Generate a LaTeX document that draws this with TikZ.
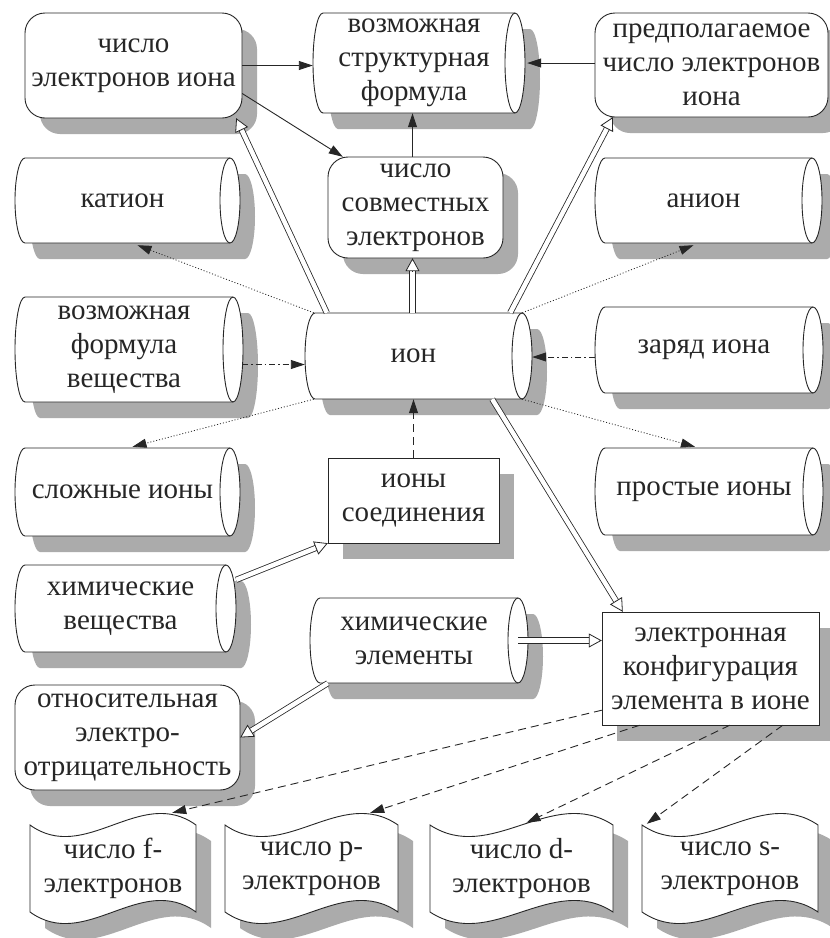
\documentclass[tikz,border=0pt]{standalone}
\usepackage{fontspec}
\setmainfont{Liberation Serif}
\usetikzlibrary{arrows.meta,calc}

\tikzset{
  shp/.style={draw=black!85, line width=0.9pt, fill=white},
  shd/.style={fill=black!33},
  lbl/.style={inner sep=0pt, align=center, font=\fontsize{29}{34}\selectfont, text=black!85},
  con/.style={draw=black!85, line width=0.9pt, -{Triangle[length=14pt,width=9pt]}},
  dotcon/.style={con, line width=0.8pt, dash pattern=on 1pt off 2pt},
  dashcon/.style={con, dash pattern=on 8pt off 5pt},
  dashdotcon/.style={con, dash pattern=on 6pt off 3pt on 1.5pt off 3pt},
  hline/.style={draw=black!85, line width=0.8pt, double=white, double distance=4.5pt},
  htip/.style={draw=black!85, line width=0.8pt, -{Triangle[length=13pt,width=14pt,fill=white]}},
}

% cylinder: name, x1, y1, x2, y2, text
\newcommand\cylnode[6]{%
  \pgfmathsetmacro\cry{(#5-#3)/2}%
  \fill[shd, shift={(15,16)}] (#2+10,#3) -- (#4-10,#3)
     arc[start angle=270,end angle=450,x radius=10,y radius=\cry] -- (#2+10,#5)
     arc[start angle=90,end angle=270,x radius=10,y radius=\cry] -- cycle;
  \draw[shp] (#2+10,#3) -- (#4-10,#3)
     arc[start angle=270,end angle=450,x radius=10,y radius=\cry] -- (#2+10,#5)
     arc[start angle=90,end angle=270,x radius=10,y radius=\cry] -- cycle;
  \draw[shp, fill=none] (#4-10,#3) arc[start angle=270,end angle=90,x radius=10,y radius=\cry];
  \node[lbl, minimum width={#4-#2-10}, minimum height={#5-#3}] (#1) at ({(#2+#4-10)/2},{(#3+#5)/2}) {#6};
}
% rounded box
\newcommand\rndnode[6]{%
  \fill[shd, rounded corners=20pt, shift={(15,16)}] (#2,#3) rectangle (#4,#5);
  \draw[shp, rounded corners=20pt] (#2,#3) rectangle (#4,#5);
  \node[lbl, minimum width={#4-#2}, minimum height={#5-#3}] (#1) at ({(#2+#4)/2},{(#3+#5)/2}) {#6};
}
% plain box
\newcommand\recnode[6]{%
  \fill[shd, shift={(15,16)}] (#2,#3) rectangle (#4,#5);
  \draw[shp] (#2,#3) rectangle (#4,#5);
  \node[lbl, minimum width={#4-#2}, minimum height={#5-#3}] (#1) at ({(#2+#4)/2},{(#3+#5)/2}) {#6};
}
% tape document
\newcommand\tapenode[6]{%
  \fill[shd, shift={(15,16)}] (#2,#3) .. controls ({#2+(#4-#2)/3},#3+40) and ({#2+2*(#4-#2)/3},#3-40) .. (#4,#3)
     -- (#4,#5) .. controls ({#2+2*(#4-#2)/3},#5-40) and ({#2+(#4-#2)/3},#5+40) .. (#2,#5) -- cycle;
  \draw[shp] (#2,#3) .. controls ({#2+(#4-#2)/3},#3+40) and ({#2+2*(#4-#2)/3},#3-40) .. (#4,#3)
     -- (#4,#5) .. controls ({#2+2*(#4-#2)/3},#5-40) and ({#2+(#4-#2)/3},#5+40) .. (#2,#5) -- cycle;
  \node[lbl, minimum width={#4-#2}, minimum height={#5-#3}] (#1) at ({(#2+#4)/2},{(#3+#5)/2}) {#6};
}
% hollow double arrow from #1 to #2
\newcommand\hollow[2]{%
  \draw[hline] (#1) -- ($(#2)!12pt!(#1)$);
  \draw[htip] ($(#2)!13pt!(#1)$) -- (#2);
}

\begin{document}
\begin{tikzpicture}[x=1pt,y=-1pt]
\fill[white] (0,0) rectangle (830,938);
\useasboundingbox (0,0) rectangle (830,938);

\rndnode{cei}{25}{13}{242}{118}{число\\электронов иона}
\cylnode{vsf}{313}{13}{525}{113}{возможная\\структурная\\формула}
\rndnode{pred}{595}{13}{828}{117}{предполагаемое\\число электронов\\иона}
\cylnode{kat}{15}{158}{240}{243}{катион}
\rndnode{sov}{328}{157}{503}{258}{число\\совместных\\электронов}
\cylnode{an}{595}{158}{822}{243}{анион}
\cylnode{vfv}{15}{297}{243}{402}{возможная\\формула\\вещества}
\cylnode{ion}{305}{313}{532}{399}{ион}
\cylnode{zar}{595}{307}{823}{393}{заряд иона}
\cylnode{sl}{15}{448}{240}{536}{сложные ионы}
\recnode{ics}{328}{458}{499}{543}{ионы\\соединения}
\cylnode{pr}{595}{448}{823}{535}{простые ионы}
\cylnode{hv}{15}{565}{236}{652}{химические\\вещества}
\cylnode{he}{310}{598}{528}{683}{химические\\элементы}
\recnode{ek}{602}{612}{819}{725}{электронная\\конфигурация\\элемента в ионе}
\rndnode{otn}{15}{685}{240}{790}{относительная\\электро-\\отрицательность}
\tapenode{fd}{30}{825}{196}{912}{число f-\\электронов}
\tapenode{pd}{225}{825}{398}{912}{число p-\\электронов}
\tapenode{dd}{430}{825}{613}{912}{число d-\\электронов}
\tapenode{sd}{642}{825}{818}{912}{число s-\\электронов}

% helper coordinates on node borders
\coordinate (sovtop) at ($(sov.north)+(-3,0)$);
\coordinate (vsfbot) at (sovtop |- vsf.south);
\coordinate (vfvout) at ($(vfv.east)+(9,15)$);
\coordinate (ionin) at (ion.west |- vfvout);

% solid arrows
\draw[con] (cei.east) -- (vsf.west |- cei.east);
\draw[con] (pred.west |- vsf.east) -- ($(vsf.east)+(12,0)$);
\draw[con] ($(cei.east)+(0,28)$) -- ($(sov.north west)+(15,0)$);
\draw[con] (sovtop) -- (vsfbot);

% hollow arrows
\hollow{$(ion.north west)+(22,0)$}{$(cei.south east)+(-6,0)$}
\hollow{$(ion.north)+(-1,0)$}{$(sov.south)+(-3,0)$}
\hollow{$(ion.north east)+(-12,0)$}{$(pred.south west)+(18,0)$}
\hollow{$(ion.south east)+(-30,0)$}{$(ek.north west)+(21,0)$}
\hollow{$(hv.north east)+(10,15)$}{ics.south west}
\hollow{he.east}{ek.west |- he.east}
\hollow{$(he.south west)+(18,0)$}{otn.east}

% dotted
\draw[dotcon] ($(ion.north west)+(9,0)$) -- ($(kat.south)+(15,2)$);
\draw[dotcon] (ion.north east) -- ($(an.south)+(-10,2)$);
\draw[dotcon] ($(ion.south west)+(9,0)$) -- ($(sl.north)+(10,-1)$);
\draw[dotcon] (ion.south east) -- ($(pr.north)+(-9,-1)$);

% dash-dot
\draw[dashdotcon] (vfvout) -- (ionin);
\draw[dashdotcon] ($(zar.west)+(0,7)$) -- ($(ion.east)+(10,1)$);

% dashed
\draw[dashcon] (ics.north) -- (ion.south -| ics.north);
\draw[dashcon] ($(ek.south west)+(0,-15)$) -- ($(fd.north east)+(-24,-12)$);
\draw[dashcon] ($(ek.south west)+(38,0)$) -- ($(pd.north east)+(-28,-12)$);
\draw[dashcon] ($(ek.south west)+(128,0)$) -- ($(dd.north)+(5,-2)$);
\draw[dashcon] ($(ek.south west)+(181,0)$) -- ($(sd.north west)+(5,-1)$);
\end{tikzpicture}
\end{document}
